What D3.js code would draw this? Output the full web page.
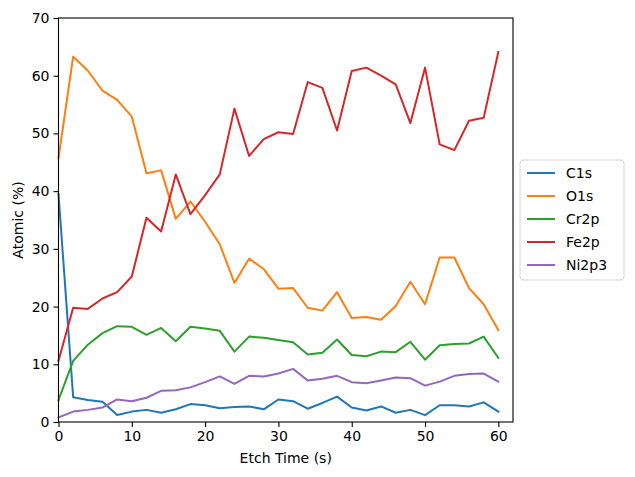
<!DOCTYPE html>
<html><head><meta charset="utf-8">
<script src="https://cdn.jsdelivr.net/npm/d3@7"></script>
<style>body{margin:0;background:#fff}svg{font-family:"DejaVu Sans",sans-serif}</style>
</head><body><svg id="c" width="635" height="477"></svg>
<script>
const etchTime = [0,2,4,6,8,10,12,14,16,18,20,22,24,26,28,30,32,34,36,38,40,42,44,46,48,50,52,54,56,58,60];
const seriesNames = ["C1s","O1s","Cr2p","Fe2p","Ni2p3"];
const C1s   = [39.5,4.3,3.8,3.5,1.2,1.8,2.1,1.6,2.2,3.1,2.9,2.4,2.6,2.7,2.2,3.9,3.6,2.3,3.3,4.4,2.5,2.0,2.7,1.6,2.1,1.2,2.9,2.9,2.7,3.4,1.8];
const O1s   = [45.7,63.3,60.9,57.4,55.8,52.9,43.1,43.6,35.2,38.2,34.7,30.8,24.1,28.3,26.5,23.1,23.2,19.8,19.3,22.5,18.0,18.2,17.7,20.1,24.3,20.4,28.5,28.5,23.2,20.4,15.9];
const Cr2p  = [3.8,10.6,13.4,15.4,16.6,16.5,15.1,16.3,14.0,16.5,16.2,15.8,12.2,14.8,14.6,14.2,13.8,11.7,12.0,14.3,11.6,11.4,12.2,12.1,13.9,10.8,13.3,13.5,13.6,14.8,11.1];
const Fe2p  = [10.6,19.8,19.6,21.4,22.5,25.2,35.4,33.0,42.9,36.0,39.3,42.9,54.3,46.1,49.0,50.2,49.9,58.9,57.9,50.5,60.8,61.4,60.0,58.5,51.8,61.4,48.1,47.1,52.2,52.7,64.1];
const Ni2p3 = [0.8,1.8,2.1,2.5,3.9,3.6,4.2,5.4,5.5,6.0,6.9,7.9,6.6,8.0,7.9,8.4,9.2,7.2,7.5,8.0,6.9,6.7,7.2,7.7,7.6,6.3,7.0,8.0,8.3,8.4,7.0];
const colors = ["#1f77b4","#ff7f0e","#2ca02c","#d62728","#9467bd"];
const xTicks = [0,10,20,30,40,50,60];
const yTicks = [0,10,20,30,40,50,60,70];
const allSeries = [C1s,O1s,Cr2p,Fe2p,Ni2p3];

const svg = d3.select("#c");
const L=58.5, T=18, R=513, B=422;
const x = d3.scaleLinear().domain([0,62]).range([L,R]);
const y = d3.scaleLinear().domain([0,70]).range([B,T]);

const line = d3.line().x((d,i)=>x(etchTime[i])).y(d=>y(d));
allSeries.forEach((s,k)=>{
  svg.append("path").datum(s).attr("d",line).attr("fill","none")
    .attr("stroke",colors[k]).attr("stroke-width",2).attr("stroke-linejoin","round").attr("stroke-linecap","square");
});

const xa = svg.append("g").attr("transform",`translate(0,${B})`)
  .call(d3.axisBottom(x).tickValues(xTicks).tickSize(5).tickPadding(4));
const ya = svg.append("g").attr("transform",`translate(${L},0)`)
  .call(d3.axisLeft(y).tickValues(yTicks).tickSize(5).tickPadding(4));
[xa,ya].forEach(a=>{
  a.select(".domain").remove();
  a.selectAll("text").attr("font-size",14).attr("fill","#000").attr("font-family","DejaVu Sans");
  a.selectAll("line").attr("stroke","#000").attr("stroke-width",1.1);
});
svg.append("rect").attr("x",L).attr("y",T).attr("width",R-L).attr("height",B-T)
  .attr("fill","none").attr("stroke","#000").attr("stroke-width",1.1);

svg.append("text").attr("x",(L+R)/2).attr("y",463).attr("text-anchor","middle")
  .attr("font-size",14).text("Etch Time (s)");
svg.append("text").attr("transform",`translate(23,${(T+B)/2}) rotate(-90)`).attr("text-anchor","middle")
  .attr("font-size",14).text("Atomic (%)");

const lg = svg.append("g");
lg.append("rect").attr("x",520).attr("y",160).attr("width",104).attr("height",120).attr("rx",3)
  .attr("fill","#fff").attr("stroke","#d5d5d5").attr("stroke-width",1);
seriesNames.forEach((n,k)=>{
  const yy = 173 + k*23;
  lg.append("line").attr("x1",527).attr("x2",555).attr("y1",yy).attr("y2",yy)
    .attr("stroke",colors[k]).attr("stroke-width",2);
  lg.append("text").attr("x",566).attr("y",yy+5).attr("font-size",14).text(n);
});
</script></body></html>
